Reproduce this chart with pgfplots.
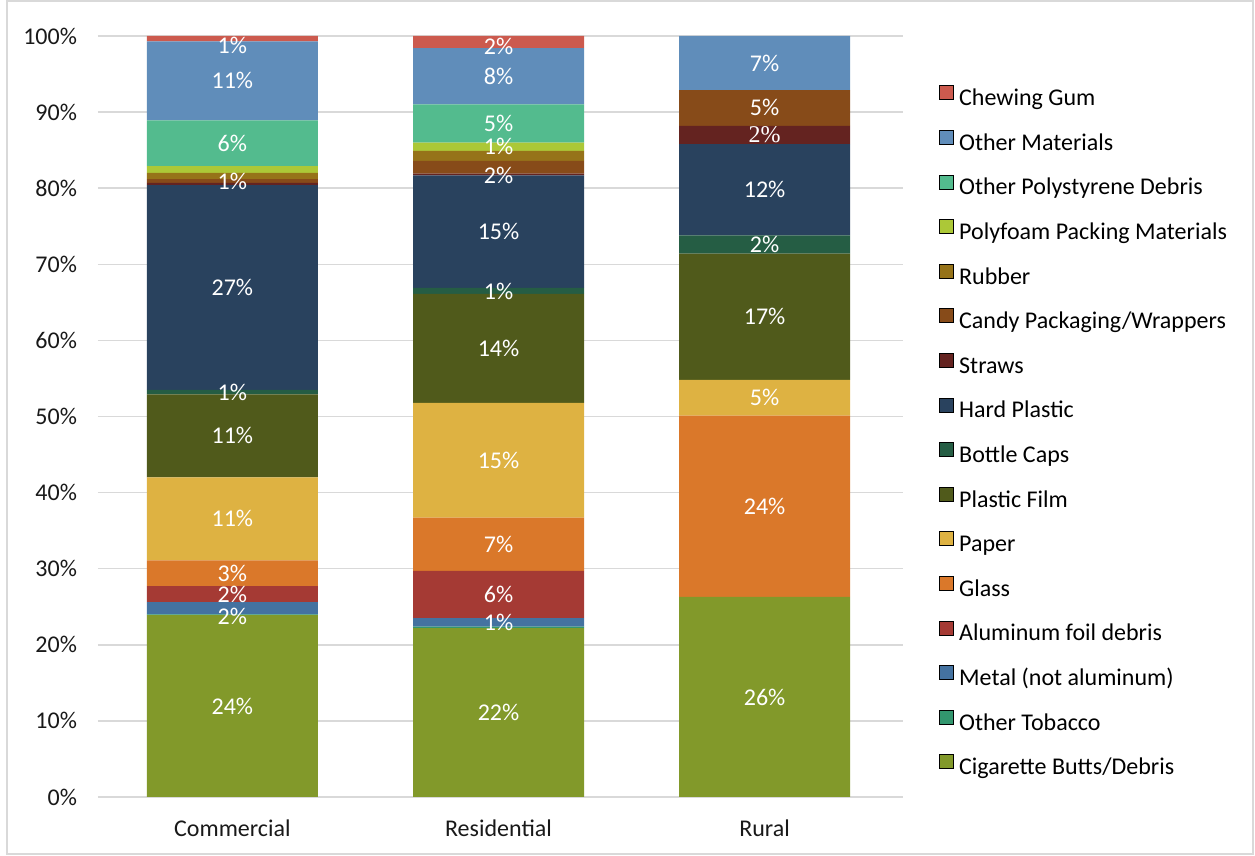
\documentclass[border=0pt]{standalone}
\usepackage{fontspec}
\setmainfont{Carlito}
\newfontfamily\srf{Liberation Serif}
\usepackage{pgfplots}
\usepackage{pgfplotstable}
\pgfplotsset{compat=1.18}

\definecolor{cgum}{RGB}{204,90,78}
\definecolor{coth}{RGB}{96,141,186}
\definecolor{cpst}{RGB}{83,187,142}
\definecolor{cfoa}{RGB}{172,200,55}
\definecolor{crub}{RGB}{150,115,25}
\definecolor{ccan}{RGB}{135,75,25}
\definecolor{cstr}{RGB}{100,35,32}
\definecolor{char}{RGB}{41,66,94}
\definecolor{ccap}{RGB}{37,93,68}
\definecolor{cfil}{RGB}{80,90,27}
\definecolor{cpap}{RGB}{222,178,66}
\definecolor{cgla}{RGB}{218,120,42}
\definecolor{calu}{RGB}{165,58,52}
\definecolor{cmet}{RGB}{68,114,160}
\definecolor{ctob}{RGB}{50,150,110}
\definecolor{ccig}{RGB}{130,153,42}
\definecolor{gridgray}{RGB}{217,217,217}

% lower a data label a little without changing its box
\protected\def\dn#1#2{\raisebox{-#1}[\height][\depth]{#2}}

% share of items per site type, in percent; *L columns hold the printed labels
\pgfplotstableread{
x cig cigL tob tobL met metL alu aluL gla glaL pap papL fil filL cap capL har harL str strL can canL rub rubL foa foaL pst pstL oth othL gum gumL
0 23.9 24\% 0.1 {} 1.6 {\dn{4pt}{2\%}} 2.1 2\% 3.4 3\% 10.9 11\% 10.9 11\% 0.6 1\% 26.9 27\% 0.3 {} 0.5 1\% 0.8 {} 0.9 {} 6.0 6\% 10.4 11\% 0.7 {\dn{3.5pt}{1\%}}
1 22.2 22\% 0.2 {} 1.1 1\% 6.2 6\% 7.0 7\% 15.1 15\% 14.3 14\% 0.8 1\% 14.8 15\% 0.2 {} 1.7 {\dn{4pt}{2\%}} 1.3 {} 1.1 1\% 5.0 5\% 7.4 8\% 1.6 {\dn{2pt}{2\%}}
2 26.3 26\% 0 {} 0 {} 0 {} 23.8 24\% 4.7 5\% 16.6 17\% 2.4 2\% 12.0 12\% 2.4 {\srf 2\%} 4.7 5\% 0 {} 0 {} 0 {} 7.1 7\% 0 {}
}\data

\begin{document}
\begin{tikzpicture}
\begin{axis}[
  scale only axis,
  width=402.5pt, height=380.5pt,
  ybar stacked, bar width=85.5pt,
  xmin=-0.505, xmax=2.52, ymin=0, ymax=100,
  xtick={0,1,2}, xticklabels={Commercial,Residential,Rural},
  ytick={0,10,...,100},
  yticklabel={\pgfmathprintnumber[assume math mode=true]{\tick}\%},
  axis line style={draw=none},
  major tick length=0pt,
  ymajorgrids, grid style={gridgray, line width=0.75pt},
  tick label style={font=\fontsize{12}{14}\selectfont, text=black!90},
  yticklabel style={xshift=-7pt},
  xticklabel style={yshift=-8pt},
  clip=false,
  point meta=explicit symbolic,
  nodes near coords,
  every node near coord/.append style={anchor=center, text=white,
    font=\fontsize{12}{14}\selectfont},
  ser/.style={fill=#1, draw=none, forget plot},
  legend image code/.code={\fill[#1] (0pt,0.2pt) rectangle (7pt,7.2pt);},
  legend cell align=left,
  legend style={draw=none, fill=none, at={(1,0.479)}, anchor=west, xshift=18pt,
    font=\fontsize{12}{14}\selectfont, inner sep=0pt, row sep=9.65pt, column sep=2.5pt,
    nodes={inner sep=0pt, text height=8pt, text depth=2.5pt}},
]
\addplot[ser=ccig] table[x=x, y=cig, meta=cigL] {\data};
\addplot[ser=ctob] table[x=x, y=tob, meta=tobL] {\data};
\addplot[ser=cmet] table[x=x, y=met, meta=metL] {\data};
\addplot[ser=calu] table[x=x, y=alu, meta=aluL] {\data};
\addplot[ser=cgla] table[x=x, y=gla, meta=glaL] {\data};
\addplot[ser=cpap] table[x=x, y=pap, meta=papL] {\data};
\addplot[ser=cfil] table[x=x, y=fil, meta=filL] {\data};
\addplot[ser=ccap] table[x=x, y=cap, meta=capL] {\data};
\addplot[ser=char] table[x=x, y=har, meta=harL] {\data};
\addplot[ser=cstr] table[x=x, y=str, meta=strL] {\data};
\addplot[ser=ccan] table[x=x, y=can, meta=canL] {\data};
\addplot[ser=crub] table[x=x, y=rub, meta=rubL] {\data};
\addplot[ser=cfoa] table[x=x, y=foa, meta=foaL] {\data};
\addplot[ser=cpst] table[x=x, y=pst, meta=pstL] {\data};
\addplot[ser=coth] table[x=x, y=oth, meta=othL] {\data};
\addplot[ser=cgum] table[x=x, y=gum, meta=gumL] {\data};
% legend, top to bottom
\addlegendimage{fill=cgum}\addlegendentry{Chewing Gum}
\addlegendimage{fill=coth}\addlegendentry{Other Materials}
\addlegendimage{fill=cpst}\addlegendentry{Other Polystyrene Debris}
\addlegendimage{fill=cfoa}\addlegendentry{Polyfoam Packing Materials}
\addlegendimage{fill=crub}\addlegendentry{Rubber}
\addlegendimage{fill=ccan}\addlegendentry{Candy Packaging/Wrappers}
\addlegendimage{fill=cstr}\addlegendentry{Straws}
\addlegendimage{fill=char}\addlegendentry{Hard Plastic}
\addlegendimage{fill=ccap}\addlegendentry{Bottle Caps}
\addlegendimage{fill=cfil}\addlegendentry{Plastic Film}
\addlegendimage{fill=cpap}\addlegendentry{Paper}
\addlegendimage{fill=cgla}\addlegendentry{Glass}
\addlegendimage{fill=calu}\addlegendentry{Aluminum foil debris}
\addlegendimage{fill=cmet}\addlegendentry{Metal (not aluminum)}
\addlegendimage{fill=ctob}\addlegendentry{Other Tobacco}
\addlegendimage{fill=ccig}\addlegendentry{Cigarette Butts/Debris}
\end{axis}
% chart area frame and page extent
\path[use as bounding box] ([shift={(-49pt,-29.5pt)}]current axis.south west) rectangle ([shift={(176pt,18pt)}]current axis.north east);
\draw[gridgray, line width=0.75pt] ([shift={(-45.5pt,-28.5pt)}]current axis.south west) rectangle ([shift={(175pt,17.5pt)}]current axis.north east);
\end{tikzpicture}
\end{document}
